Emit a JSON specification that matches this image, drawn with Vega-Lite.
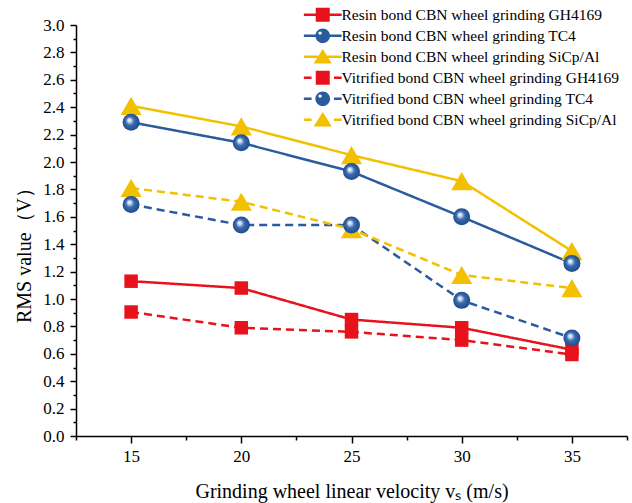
{
  "$schema": "https://vega.github.io/schema/vega-lite/v6.json",
  "autosize": "none",
  "width": 551,
  "height": 411,
  "padding": {"left": 76, "top": 25, "right": 5, "bottom": 67},
  "background": "#ffffff",
  "config": {
    "view": {"stroke": null},
    "font": "Liberation Serif",
    "legend": {
      "labelFont": "Liberation Serif",
      "labelFontSize": 15.5,
      "labelColor": "#000000",
      "labelLimit": 400
    }
  },
  "data": {
    "values": [
      {"v": 15, "rms": 1.13, "bond": "Resin", "material": "GH4169", "series": "Resin bond CBN wheel grinding GH4169"},
      {"v": 20, "rms": 1.08, "bond": "Resin", "material": "GH4169", "series": "Resin bond CBN wheel grinding GH4169"},
      {"v": 25, "rms": 0.85, "bond": "Resin", "material": "GH4169", "series": "Resin bond CBN wheel grinding GH4169"},
      {"v": 30, "rms": 0.79, "bond": "Resin", "material": "GH4169", "series": "Resin bond CBN wheel grinding GH4169"},
      {"v": 35, "rms": 0.63, "bond": "Resin", "material": "GH4169", "series": "Resin bond CBN wheel grinding GH4169"},
      {"v": 15, "rms": 2.29, "bond": "Resin", "material": "TC4", "series": "Resin bond CBN wheel grinding TC4"},
      {"v": 20, "rms": 2.14, "bond": "Resin", "material": "TC4", "series": "Resin bond CBN wheel grinding TC4"},
      {"v": 25, "rms": 1.93, "bond": "Resin", "material": "TC4", "series": "Resin bond CBN wheel grinding TC4"},
      {"v": 30, "rms": 1.60, "bond": "Resin", "material": "TC4", "series": "Resin bond CBN wheel grinding TC4"},
      {"v": 35, "rms": 1.26, "bond": "Resin", "material": "TC4", "series": "Resin bond CBN wheel grinding TC4"},
      {"v": 15, "rms": 2.41, "bond": "Resin", "material": "SiCp/Al", "series": "Resin bond CBN wheel grinding SiCp/Al"},
      {"v": 20, "rms": 2.26, "bond": "Resin", "material": "SiCp/Al", "series": "Resin bond CBN wheel grinding SiCp/Al"},
      {"v": 25, "rms": 2.05, "bond": "Resin", "material": "SiCp/Al", "series": "Resin bond CBN wheel grinding SiCp/Al"},
      {"v": 30, "rms": 1.86, "bond": "Resin", "material": "SiCp/Al", "series": "Resin bond CBN wheel grinding SiCp/Al"},
      {"v": 35, "rms": 1.35, "bond": "Resin", "material": "SiCp/Al", "series": "Resin bond CBN wheel grinding SiCp/Al"},
      {"v": 15, "rms": 0.905, "bond": "Vitrified", "material": "GH4169", "series": "Vitrified bond CBN wheel grinding GH4169"},
      {"v": 20, "rms": 0.79, "bond": "Vitrified", "material": "GH4169", "series": "Vitrified bond CBN wheel grinding GH4169"},
      {"v": 25, "rms": 0.76, "bond": "Vitrified", "material": "GH4169", "series": "Vitrified bond CBN wheel grinding GH4169"},
      {"v": 30, "rms": 0.70, "bond": "Vitrified", "material": "GH4169", "series": "Vitrified bond CBN wheel grinding GH4169"},
      {"v": 35, "rms": 0.595, "bond": "Vitrified", "material": "GH4169", "series": "Vitrified bond CBN wheel grinding GH4169"},
      {"v": 15, "rms": 1.69, "bond": "Vitrified", "material": "TC4", "series": "Vitrified bond CBN wheel grinding TC4"},
      {"v": 20, "rms": 1.54, "bond": "Vitrified", "material": "TC4", "series": "Vitrified bond CBN wheel grinding TC4"},
      {"v": 25, "rms": 1.54, "bond": "Vitrified", "material": "TC4", "series": "Vitrified bond CBN wheel grinding TC4"},
      {"v": 30, "rms": 0.99, "bond": "Vitrified", "material": "TC4", "series": "Vitrified bond CBN wheel grinding TC4"},
      {"v": 35, "rms": 0.715, "bond": "Vitrified", "material": "TC4", "series": "Vitrified bond CBN wheel grinding TC4"},
      {"v": 15, "rms": 1.81, "bond": "Vitrified", "material": "SiCp/Al", "series": "Vitrified bond CBN wheel grinding SiCp/Al"},
      {"v": 20, "rms": 1.71, "bond": "Vitrified", "material": "SiCp/Al", "series": "Vitrified bond CBN wheel grinding SiCp/Al"},
      {"v": 25, "rms": 1.51, "bond": "Vitrified", "material": "SiCp/Al", "series": "Vitrified bond CBN wheel grinding SiCp/Al"},
      {"v": 30, "rms": 1.175, "bond": "Vitrified", "material": "SiCp/Al", "series": "Vitrified bond CBN wheel grinding SiCp/Al"},
      {"v": 35, "rms": 1.08, "bond": "Vitrified", "material": "SiCp/Al", "series": "Vitrified bond CBN wheel grinding SiCp/Al"}
    ]
  },
  "encoding": {
    "x": {
      "field": "v",
      "type": "quantitative",
      "scale": {"domain": [12.5, 37.5], "nice": false, "zero": false},
      "axis": {
        "title": "Grinding wheel linear velocity vₛ (m/s)",
        "values": [12.5, 15, 17.5, 20, 22.5, 25, 27.5, 30, 32.5, 35, 37.5],
        "labelExpr": "datum.value % 5 == 0 ? datum.label : ''",
        "tickSize": {"condition": {"test": "datum.value % 5 == 0", "value": 7}, "value": 4},
        "grid": false,
        "domainColor": "#000000",
        "domainWidth": 1.5,
        "tickColor": "#000000",
        "tickWidth": 1.5,
        "labelFont": "Liberation Serif",
        "labelFontSize": 17,
        "labelColor": "#000000",
        "labelOverlap": false,
        "labelFlush": false,
        "labelPadding": 5,
        "titleFont": "Liberation Serif",
        "titleFontSize": 20,
        "titleFontWeight": "normal",
        "titleColor": "#000000",
        "titleBaseline": "alphabetic",
        "titleY": 61
      }
    },
    "y": {
      "field": "rms",
      "type": "quantitative",
      "scale": {"domain": [0, 3], "nice": false},
      "axis": {
        "title": "RMS value（V）",
        "values": [0, 0.1, 0.2, 0.3, 0.4, 0.5, 0.6, 0.7, 0.8, 0.9, 1.0, 1.1, 1.2, 1.3, 1.4, 1.5, 1.6, 1.7, 1.8, 1.9, 2.0, 2.1, 2.2, 2.3, 2.4, 2.5, 2.6, 2.7, 2.8, 2.9, 3.0],
        "labelExpr": "round(datum.value * 10) % 2 == 0 ? format(datum.value, '.1f') : ''",
        "tickSize": {"condition": {"test": "round(datum.value * 10) % 2 == 0", "value": 6}, "value": 3},
        "grid": false,
        "domainColor": "#000000",
        "domainWidth": 1.5,
        "tickColor": "#000000",
        "tickWidth": 1.5,
        "labelFont": "Liberation Serif",
        "labelFontSize": 17,
        "labelColor": "#000000",
        "labelOverlap": false,
        "labelFlush": false,
        "labelPadding": 6,
        "titleFont": "Liberation Serif",
        "titleFontSize": 20,
        "titleFontWeight": "normal",
        "titleColor": "#000000",
        "titleAngle": 270,
        "titleBaseline": "alphabetic",
        "titleAlign": "center",
        "titleX": -46,
        "titleY": 225
      }
    }
  },
  "layer": [
    {
      "mark": {"type": "line", "strokeWidth": 2.5},
      "encoding": {
        "color": {
          "field": "material",
          "type": "nominal",
          "scale": {"domain": ["GH4169", "TC4", "SiCp/Al"], "range": ["#e8121c", "#2a5b9f", "#f3c000"]},
          "legend": null
        },
        "strokeDash": {
          "field": "bond",
          "type": "nominal",
          "scale": {"domain": ["Resin", "Vitrified"], "range": [[1, 0], [8, 5]]},
          "legend": null
        },
        "detail": {"field": "series"}
      }
    },
    {
      "transform": [{"filter": "datum.material == 'GH4169'"}],
      "mark": {"type": "point", "shape": "square", "filled": true, "size": 182, "color": "#e8121c", "opacity": 1}
    },
    {
      "transform": [{"filter": "datum.material == 'SiCp/Al'"}],
      "mark": {"type": "point", "shape": "triangle-up", "filled": true, "size": 441, "color": "#f3c000", "opacity": 1}
    },
    {
      "transform": [{"filter": "datum.material == 'TC4'"}],
      "mark": {
        "type": "point",
        "shape": "circle",
        "filled": true,
        "size": 289,
        "opacity": 1,
        "fill": {
          "gradient": "radial",
          "x1": 0.38, "y1": 0.36, "r1": 0,
          "x2": 0.5, "y2": 0.5, "r2": 0.55,
          "stops": [
            {"offset": 0, "color": "#ffffff"},
            {"offset": 0.18, "color": "#c9dcf3"},
            {"offset": 0.45, "color": "#3a6bb0"},
            {"offset": 1, "color": "#1b4584"}
          ]
        }
      }
    },
    {
      "mark": {"type": "point", "filled": true, "opacity": 0},
      "encoding": {
        "shape": {
          "field": "series",
          "type": "nominal",
          "scale": {
            "domain": [
              "Resin bond CBN wheel grinding GH4169",
              "Resin bond CBN wheel grinding TC4",
              "Resin bond CBN wheel grinding SiCp/Al",
              "Vitrified bond CBN wheel grinding GH4169",
              "Vitrified bond CBN wheel grinding TC4",
              "Vitrified bond CBN wheel grinding SiCp/Al"
            ],
            "range": [
              "M-2.7,-0.18H2.7V0.18H-2.7Z M-1,-1H1V1H-1Z",
              "M-2.7,-0.18H2.7V0.18H-2.7Z M-1.05,0A1.05,1.05 0 1,1 1.05,0A1.05,1.05 0 1,1 -1.05,0Z M-0.62,-0.38A0.24,0.24 0 1,0 -0.14,-0.38A0.24,0.24 0 1,0 -0.62,-0.38Z",
              "M-2.7,-0.18H2.7V0.18H-2.7Z M0,-1.1L1.3,0.95H-1.3Z",
              "M-2.7,-0.18H-1.6V0.18H-2.7Z M1.6,-0.18H2.7V0.18H1.6Z M-1,-1H1V1H-1Z",
              "M-2.7,-0.18H-1.6V0.18H-2.7Z M1.6,-0.18H2.7V0.18H1.6Z M-1.05,0A1.05,1.05 0 1,1 1.05,0A1.05,1.05 0 1,1 -1.05,0Z M-0.62,-0.38A0.24,0.24 0 1,0 -0.14,-0.38A0.24,0.24 0 1,0 -0.62,-0.38Z",
              "M-2.7,-0.18H-1.6V0.18H-2.7Z M1.6,-0.18H2.7V0.18H1.6Z M0,-1.1L1.3,0.95H-1.3Z"
            ]
          },
          "legend": {
            "title": null,
            "orient": "none",
            "legendX": 239,
            "legendY": -18,
            "padding": 0,
            "symbolSize": 196,
            "symbolStrokeWidth": 0,
            "symbolOpacity": 1,
            "labelOffset": 11,
            "rowPadding": 4
          }
        },
        "color": {
          "field": "series",
          "type": "nominal",
          "scale": {
            "domain": [
              "Resin bond CBN wheel grinding GH4169",
              "Resin bond CBN wheel grinding TC4",
              "Resin bond CBN wheel grinding SiCp/Al",
              "Vitrified bond CBN wheel grinding GH4169",
              "Vitrified bond CBN wheel grinding TC4",
              "Vitrified bond CBN wheel grinding SiCp/Al"
            ],
            "range": ["#e8121c", "#2a5b9f", "#f3c000", "#e8121c", "#2a5b9f", "#f3c000"]
          },
          "legend": {
            "title": null,
            "orient": "none",
            "legendX": 239,
            "legendY": -18,
            "padding": 0,
            "symbolSize": 196,
            "symbolStrokeWidth": 0,
            "symbolOpacity": 1,
            "labelOffset": 11,
            "rowPadding": 4
          }
        }
      }
    }
  ],
  "resolve": {"scale": {"color": "independent", "shape": "independent", "strokeDash": "independent"}}
}
